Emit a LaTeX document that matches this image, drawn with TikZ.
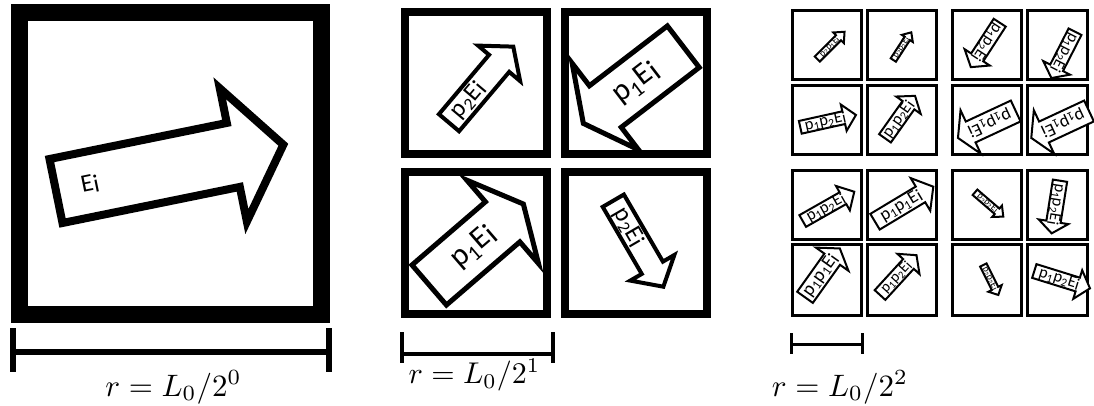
\documentclass[tikz,border=0pt]{standalone}
\usepackage{fontspec}
\newfontfamily\lab{Carlito}
\newcommand{\Ei}{E\raisebox{-0.12em}{i}}
\newcommand{\po}{p\textsubscript{1}}
\newcommand{\pt}{p\textsubscript{2}}
\newcounter{labcnt}
% #1 tail (x,y), #2 angle, #3 length, #4 head width, #5 line width,
% #6 text position (fraction of length), #7 extra text rotation, #8 font size, #9 text
\newcommand{\farrow}[9]{%
  \stepcounter{labcnt}%
  \begin{scope}[shift={#1},rotate=#2]
    \draw[arrowline,line width=#5] (0,{0.24*#4}) -- ({0.78*#3},{0.24*#4}) -- ({0.78*#3},{0.5*#4}) -- (#3,0) -- ({0.78*#3},{-0.5*#4}) -- ({0.78*#3},{-0.24*#4}) -- (0,{-0.24*#4}) -- cycle;
    \node[lbl,rotate={#2+#7},font={\lab\fontsize{#8}{#8}\selectfont}] (lab\arabic{labcnt}) at ({#6*#3},0) {#9};
  \end{scope}}
\tikzset{
  arrowline/.style={draw=black,fill=white,line join=miter},
  lbl/.style={inner sep=0pt,text=black},
  bigsq/.style={draw=black,line width=17},
  midsq/.style={draw=black,line width=8},
  smallsq/.style={draw=black,line width=2.5},
  bar/.style={draw=black},
  barlabel/.style={anchor=base,inner sep=0pt}
}
\begin{document}
\begin{tikzpicture}[x=1pt,y=-1pt]
\useasboundingbox (0,0) rectangle (1094,405);
% ---------- left panel ----------
\draw[bigsq] (19.5,12.5) rectangle (321.5,314.5);
\farrow{(56,191)}{11.5}{232}{136}{8}{0.15}{0}{25}{\Ei}
% ---------- middle panel ----------
\draw[midsq] (405,12) rectangle (547,154);
\draw[midsq] (565,12) rectangle (707,154);
\draw[midsq] (405,172) rectangle (547,314);
\draw[midsq] (565,172) rectangle (707,314);
\farrow{(449,122.7)}{49.8}{99.6}{55}{4}{0.3}{0}{25}{\pt\Ei}
\farrow{(683.3,46.7)}{217.5}{126}{109}{5}{0.47}{180}{31}{\po\Ei}
\farrow{(429.2,285)}{40.7}{124.2}{110}{5}{0.47}{0}{31}{\po\Ei}
\farrow{(613.3,200.7)}{-59.8}{99.5}{51}{4}{0.31}{0}{25}{\pt\Ei}
% ---------- right panel ----------
\foreach \xa/\xb in {792.5/861.5, 867.5/936.5, 952.5/1021.5, 1027.5/1087.5}{
  \foreach \ya/\yb in {10.5/79.5, 85.5/154.5, 170.5/239.5, 244.5/315.5}{
    \draw[smallsq] (\xa,\ya) rectangle (\xb,\yb);
  }
}
\farrow{(817.3,59)}{45}{38.5}{15}{2}{0.45}{0}{9.5}{\pt\po\Ei}
\farrow{(893.3,60)}{57}{33}{13}{2}{0.45}{0}{9}{\pt\pt\Ei}
\farrow{(800.3,127.3)}{12.5}{57}{27}{2}{0.45}{0}{16.5}{\po\pt\Ei}
\farrow{(885,138.3)}{54.7}{52}{30}{2}{0.45}{0}{16.5}{\po\pt\Ei}
\farrow{(999.7,22.7)}{237}{53}{30}{2}{0.45}{0}{16.5}{\po\pt\Ei}
\farrow{(1075,31.7)}{243}{52}{30}{2}{0.45}{0}{16.5}{\po\pt\Ei}
\farrow{(1015.7,111)}{205}{63.7}{48}{2}{0.45}{0}{18}{\po\po\Ei}
\farrow{(1089,111)}{205}{63.7}{48}{2}{0.45}{0}{18}{\po\po\Ei}
\farrow{(802.7,221)}{29.6}{59.3}{28}{2}{0.45}{0}{16.5}{\po\pt\Ei}
\farrow{(875,221.7)}{31}{68}{38}{2}{0.45}{0}{18}{\po\po\Ei}
\farrow{(805,297.3)}{54.5}{60}{40}{2}{0.45}{0}{19}{\po\po\Ei}
\farrow{(880,295)}{47.5}{54}{30}{2}{0.45}{0}{15}{\po\pt\Ei}
\farrow{(975,192.3)}{-40.7}{37.3}{15}{2}{0.45}{0}{9.5}{\pt\pt\Ei}
\farrow{(1060,180.7)}{-99}{53.3}{30}{2}{0.45}{0}{16.5}{\po\pt\Ei}
\farrow{(983.3,265)}{-63.4}{33.5}{15}{2}{0.45}{0}{9.5}{\pt\pt\Ei}
\farrow{(1034.3,271)}{-17.3}{58.3}{30}{2}{0.45}{0}{16.5}{\po\pt\Ei}
% ---------- scale bars ----------
\coordinate (b0l) at (12.7,352); \coordinate (b0r) at (329,352);
\draw[bar,line width=6] (b0l) -- (b0r);
\draw[bar,line width=6] (12.7,328) -- (12.7,372);
\draw[bar,line width=6] (329,328) -- (329,372);
\node[barlabel,scale=3.1] (l0) at (173.5,396) {$r = L_0/2^0$};
\coordinate (b1l) at (402,354); \coordinate (b1r) at (553.3,354);
\draw[bar,line width=4.3] (b1l) -- (b1r);
\draw[bar,line width=4.3] (402,332.3) -- (402,363.3);
\draw[bar,line width=4.3] (553.3,332.3) -- (553.3,363.3);
\node[barlabel,scale=3.0] (l1) at (474.5,383.5) {$r = L_0/2^1$};
\coordinate (b2l) at (791.3,344.3); \coordinate (b2r) at (862.7,344.3);
\draw[bar,line width=3.3] (b2l) -- (b2r);
\draw[bar,line width=3.3] (791.3,333.3) -- (791.3,354);
\draw[bar,line width=3.3] (862.7,333.3) -- (862.7,354);
\node[barlabel,scale=3.1] (l2) at (840,396) {$r = L_0/2^2$};
\end{tikzpicture}
\end{document}
